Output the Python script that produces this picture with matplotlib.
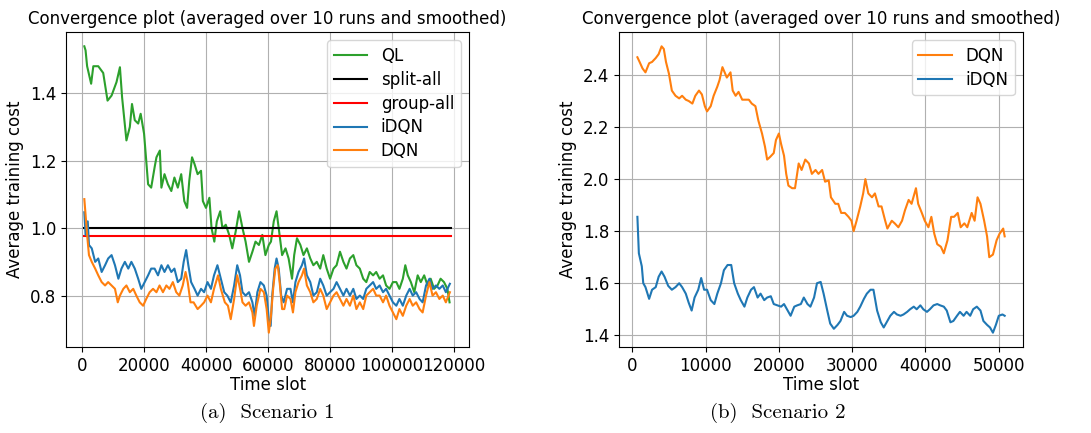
import numpy as np
import matplotlib
matplotlib.use("Agg")
import matplotlib.pyplot as plt

# ---- Scenario 1 ----
ql_t = [600, 1000, 1500, 2800, 3500, 5100, 6700, 8100, 9400, 11000, 12100, 12800, 14200, 15300,
        16000, 16900, 18000, 18800, 19900, 20600, 21200, 22200, 23300, 23900, 25000, 25500, 26500,
        27600, 28700, 29700, 30800, 31900, 32900, 33800, 34500, 35400, 36200, 37200, 38300, 38900,
        39900, 41000, 41700, 42600, 43400, 44500, 45200, 46300, 47400, 48400, 49500, 50600, 51700,
        52700, 53800, 54900, 55900, 57000, 58100, 59100, 60200, 60900, 61800, 62700, 63400, 64500,
        65600, 66600, 67700, 68400, 69300, 70400, 71400, 72500, 73600, 74600, 75700, 76800, 77800,
        78900, 80000, 81100, 82100, 83200, 84300, 85300, 86400, 87500, 88500, 89600, 90700, 91700,
        92800, 93900, 94900, 96000, 97100, 98100, 99200, 100300, 101400, 102400, 103500, 104300,
        105100, 106100, 107200, 108300, 109300, 110400, 111500, 112500, 113600, 114700, 115700,
        116800, 117900, 118600]
ql = [1.539, 1.527, 1.48, 1.428, 1.48, 1.48, 1.46, 1.378, 1.393, 1.433, 1.477, 1.388, 1.26, 1.30,
      1.368, 1.32, 1.31, 1.339, 1.28, 1.20, 1.13, 1.12, 1.18, 1.21, 1.23, 1.12, 1.16,
      1.13, 1.11, 1.15, 1.12, 1.16, 1.08, 1.06, 1.14, 1.21, 1.19, 1.16, 1.17, 1.08,
      1.06, 1.09, 1.00, 0.96, 1.02, 1.05, 1.00, 1.01, 0.98, 0.94, 0.99, 1.05, 1.00,
      0.96, 0.90, 0.93, 0.96, 0.95, 0.98, 0.92, 0.95, 0.96, 1.02, 1.05, 1.00, 0.92,
      0.94, 0.91, 0.85, 0.92, 0.97, 0.95, 0.92, 0.94, 0.91, 0.89, 0.90, 0.88, 0.92,
      0.88, 0.85, 0.88, 0.89, 0.93, 0.90, 0.88, 0.91, 0.92, 0.89, 0.88, 0.85, 0.84,
      0.87, 0.86, 0.87, 0.85, 0.86, 0.83, 0.82, 0.84, 0.84, 0.82, 0.85, 0.89,
      0.86, 0.84, 0.81, 0.86, 0.84, 0.86, 0.83, 0.85, 0.82, 0.83, 0.85,
      0.84, 0.82, 0.78]

idqn1_t = [600, 1000, 1700, 2100, 3000, 4100, 5100, 6200, 7300, 8300, 9400, 10500, 11600, 12600,
           13700, 14800, 15800, 16900, 18000, 19000, 20100, 21200, 22200, 23300, 24400, 25500,
           26500, 27600, 28700, 29700, 30800, 31900, 32700, 33500, 34200, 35100, 36200, 37200,
           38300, 39300, 40400, 41500, 42500, 43600, 44700, 45800, 46800, 47900, 49000, 50000,
           50900, 51700, 52700, 53800, 54900, 55600, 56500, 57500, 58600, 59500, 60200, 60800,
           61300, 62100, 62700, 63400, 64200, 65000, 66100, 67200, 68000, 68800, 69800, 70900,
           71600, 72500, 73600, 74600, 75700, 76800, 77800, 78900, 80000, 81100, 82100, 83200,
           84300, 85300, 86400, 87500, 88500, 89600, 90700, 91700, 92800, 93900, 94900, 96000,
           97100, 98100, 99200, 100300, 101400, 102400, 103500, 104600, 105700, 106700, 107800,
           108900, 109900, 111000, 112100, 113100, 114200, 115300, 116400, 117400, 118700]
idqn1 = [1.047, 0.98, 1.02, 0.95, 0.94, 0.90, 0.91, 0.87, 0.89, 0.91, 0.92, 0.89, 0.85, 0.88,
         0.90, 0.88, 0.90, 0.88, 0.85, 0.82, 0.84, 0.86, 0.88, 0.88, 0.86, 0.89,
         0.87, 0.89, 0.87, 0.88, 0.84, 0.85, 0.90, 0.935, 0.89, 0.84, 0.82, 0.80,
         0.82, 0.81, 0.84, 0.82, 0.86, 0.89, 0.85, 0.81, 0.80, 0.78, 0.83, 0.89,
         0.86, 0.81, 0.80, 0.81, 0.78, 0.74, 0.81, 0.84, 0.83, 0.80, 0.73, 0.71,
         0.80, 0.88, 0.91, 0.88, 0.80, 0.78, 0.82, 0.82, 0.78, 0.84, 0.87, 0.89,
         0.91, 0.86, 0.84, 0.80, 0.81, 0.85, 0.83, 0.80, 0.81, 0.82, 0.84, 0.82,
         0.80, 0.82, 0.80, 0.82, 0.79, 0.80, 0.79, 0.82, 0.83, 0.84, 0.82, 0.83,
         0.81, 0.82, 0.80, 0.78, 0.77, 0.79, 0.77, 0.80, 0.82, 0.80, 0.81,
         0.79, 0.78, 0.83, 0.85, 0.82, 0.83, 0.82, 0.83, 0.81, 0.835]

dqn1_t = [600, 1000, 1500, 2100, 3000, 4100, 5100, 6200, 7300, 8300, 9400, 10500, 11400, 12100,
          13200, 14200, 15300, 16400, 17400, 18500, 19600, 20600, 21700, 22800, 23900, 24900,
          26000, 27100, 28100, 29200, 30300, 31300, 32400, 33300, 34000, 34900, 35900, 37200,
          38300, 39300, 40400, 41500, 42500, 43800, 44700, 46000, 47000, 47900, 49000, 50000,
          50900, 51700, 52700, 53800, 54900, 55400, 56300, 57500, 58600, 59500, 60200, 60900,
          61600, 62300, 63100, 63700, 64500, 65200, 66100, 67200, 68000, 68800, 69800, 70900,
          71600, 72500, 73600, 74600, 75700, 76800, 77800, 78900, 80000, 81100, 82100, 83200,
          84300, 85300, 86400, 87500, 88500, 89600, 90700, 91700, 92800, 93900, 94900, 96000,
          97100, 98100, 99200, 100300, 101400, 102400, 103500, 104600, 105700, 106700, 107800,
          108900, 109900, 111000, 112100, 113100, 114200, 115300, 116400, 117400, 118700]
dqn1 = [1.086, 1.04, 0.98, 0.92, 0.90, 0.88, 0.86, 0.84, 0.83, 0.84, 0.83, 0.82, 0.78, 0.80,
        0.82, 0.83, 0.81, 0.82, 0.80, 0.78, 0.77, 0.79, 0.81, 0.82, 0.81, 0.83,
        0.81, 0.83, 0.82, 0.84, 0.81, 0.80, 0.83, 0.87, 0.84, 0.78, 0.78, 0.76,
        0.77, 0.78, 0.80, 0.78, 0.82, 0.86, 0.82, 0.78, 0.77, 0.73, 0.79, 0.86,
        0.82, 0.78, 0.77, 0.78, 0.75, 0.71, 0.77, 0.82, 0.81, 0.76, 0.69, 0.74,
        0.82, 0.88, 0.89, 0.84, 0.76, 0.76, 0.80, 0.79, 0.75, 0.81, 0.84, 0.86,
        0.88, 0.83, 0.81, 0.78, 0.79, 0.82, 0.80, 0.76, 0.78, 0.80, 0.81, 0.79,
        0.77, 0.79, 0.77, 0.80, 0.76, 0.78, 0.76, 0.80, 0.81, 0.82, 0.80, 0.80,
        0.78, 0.80, 0.77, 0.75, 0.73, 0.76, 0.74, 0.77, 0.79, 0.77, 0.78,
        0.76, 0.75, 0.80, 0.84, 0.80, 0.81, 0.79, 0.80, 0.78, 0.81]

split_all = 1.0
group_all = 0.978
base_t = [600, 119000]

# ---- Scenario 2 ----
dqn2_t = [700, 1000, 1400, 1800, 2300, 2700, 3200, 3600, 4000, 4300, 4600, 5000, 5400, 5900,
          6400, 6800, 7300, 7700, 8200, 8600, 9100, 9500, 9900, 10200, 10700, 11100, 11600,
          11900, 12300, 12600, 12900, 13400, 13700, 14100, 14500, 15000, 15400, 15900, 16300,
          16800, 17200, 17700, 18100, 18400, 18800, 19300, 19600, 20000, 20300, 20700, 21000,
          21300, 21800, 22200, 22700, 23100, 23600, 24100, 24500, 25000, 25400, 25900, 26300,
          26800, 27100, 27700, 28100, 28500, 29000, 29500, 29900, 30200, 30600, 31100, 31500,
          31800, 32200, 32700, 33100, 33600, 34000, 34500, 34800, 35400, 35800, 36300, 36800,
          37200, 37700, 38100, 38700, 39000, 39500, 39900, 40400, 40800, 41200, 41600, 42100,
          42500, 43000, 43500, 43900, 44400, 44800, 45300, 45700, 46300, 46700, 47100, 47500,
          48000, 48400, 48700, 49200, 49700, 50100, 50600, 50800]
dqn2 = [2.468, 2.45, 2.425, 2.41, 2.445, 2.45, 2.465, 2.48, 2.51, 2.50, 2.45, 2.405, 2.34, 2.32,
        2.31, 2.32, 2.305, 2.30, 2.29, 2.32, 2.34, 2.325, 2.28, 2.26, 2.28, 2.32, 2.355,
        2.38, 2.43, 2.41, 2.39, 2.41, 2.34, 2.32, 2.335, 2.305, 2.305, 2.305, 2.29,
        2.28, 2.225, 2.175, 2.125, 2.075, 2.085, 2.10, 2.15, 2.175, 2.135, 2.09, 2.02,
        1.975, 1.965, 1.965, 2.06, 2.035, 2.075, 2.06, 2.02, 2.035, 2.02, 2.035, 1.99,
        1.995, 1.93, 1.905, 1.905, 1.87, 1.87, 1.855, 1.84, 1.80, 1.84, 1.895, 1.945,
        2.00, 1.945, 1.93, 1.945, 1.895, 1.895, 1.84, 1.81, 1.84, 1.83, 1.815, 1.84,
        1.88, 1.92, 1.905, 1.965, 1.905, 1.87, 1.84, 1.815, 1.855, 1.79, 1.75, 1.74,
        1.715, 1.765, 1.855, 1.855, 1.87, 1.815, 1.83, 1.815, 1.87, 1.84, 1.93, 1.905,
        1.84, 1.78, 1.70, 1.71, 1.765, 1.79, 1.81, 1.78]

idqn2_t = [700, 900, 1300, 1500, 1800, 2300, 2700, 3200, 3600, 4000, 4400, 4900, 5400, 5900,
           6400, 6800, 7300, 7700, 8100, 8500, 9000, 9400, 9800, 10200, 10700, 11200, 11600,
           12100, 12500, 13000, 13500, 13900, 14400, 14800, 15300, 15700, 16200, 16600, 17100,
           17500, 18000, 18400, 18900, 19300, 19800, 20300, 20700, 21200, 21600, 22100, 22500,
           23000, 23400, 23900, 24300, 24800, 25200, 25700, 26100, 26600, 27000, 27500, 28000,
           28400, 28900, 29300, 29800, 30200, 30700, 31100, 31600, 32000, 32500, 32900, 33400,
           33900, 34300, 34800, 35200, 35700, 36100, 36600, 37000, 37500, 37900, 38400, 38800,
           39300, 39700, 40200, 40600, 41100, 41600, 42000, 42500, 42900, 43400, 43800, 44300,
           44700, 45200, 45600, 46100, 46500, 47000, 47500, 47900, 48400, 48800, 49200, 49600,
           50000, 50500, 50800]
idqn2 = [1.855, 1.715, 1.665, 1.60, 1.585, 1.54, 1.575, 1.585, 1.625, 1.645, 1.625, 1.59, 1.575,
         1.585, 1.60, 1.585, 1.56, 1.525, 1.495, 1.545, 1.575, 1.62, 1.575, 1.575, 1.535, 1.52,
         1.56, 1.60, 1.65, 1.67, 1.67, 1.60, 1.56, 1.535, 1.51, 1.545, 1.575, 1.585, 1.545,
         1.56, 1.535, 1.545, 1.55, 1.52, 1.515, 1.51, 1.52, 1.495, 1.475, 1.51, 1.515,
         1.52, 1.545, 1.52, 1.51, 1.545, 1.60, 1.605, 1.56, 1.495, 1.445, 1.425, 1.44,
         1.455, 1.49, 1.475, 1.47, 1.475, 1.49, 1.51, 1.54, 1.56, 1.575, 1.575, 1.495,
         1.45, 1.43, 1.455, 1.475, 1.49, 1.48, 1.475, 1.48, 1.49, 1.50, 1.51, 1.50,
         1.515, 1.50, 1.49, 1.50, 1.515, 1.52, 1.515, 1.51, 1.495, 1.45, 1.455, 1.475,
         1.49, 1.475, 1.49, 1.475, 1.50, 1.51, 1.495, 1.455, 1.44, 1.43, 1.41, 1.44,
         1.475, 1.48, 1.475]

title = "Convergence plot (averaged over 10 runs and smoothed)"
fs = 12

fig = plt.figure(figsize=(10.91, 4.33), dpi=100)
ax1 = fig.add_axes([0.0605, 0.1986, 0.3695, 0.7275])
ax2 = fig.add_axes([0.5674, 0.1986, 0.3703, 0.7275])

ax1.plot(ql_t, ql, color="tab:green", label="QL")
ax1.plot(base_t, [split_all, split_all], color="black", label="split-all")
ax1.plot(base_t, [group_all, group_all], color="red", label="group-all")
ax1.plot(idqn1_t, idqn1, color="tab:blue", label="iDQN")
ax1.plot(dqn1_t, dqn1, color="tab:orange", label="DQN")
ax1.set_yticks([0.8, 1.0, 1.2, 1.4])

ax2.plot(dqn2_t, dqn2, color="tab:orange", label="DQN")
ax2.plot(idqn2_t, idqn2, color="tab:blue", label="iDQN")

for ax in (ax1, ax2):
    ax.grid(True)
    ax.set_title(title, fontsize=fs)
    ax.set_xlabel("Time slot", fontsize=fs, labelpad=1)
    ax.set_ylabel("Average training cost", fontsize=fs)
    ax.tick_params(labelsize=fs)
    ax.legend(loc="upper right", fontsize=fs, labelspacing=0.35)

fig.text(0.245, 0.022, "(a)  Scenario 1", ha="center", va="bottom", fontsize=15, family="cmr10")
fig.text(0.713, 0.022, "(b)  Scenario 2", ha="center", va="bottom", fontsize=15, family="cmr10")

fig.savefig("out.png", dpi=100)
